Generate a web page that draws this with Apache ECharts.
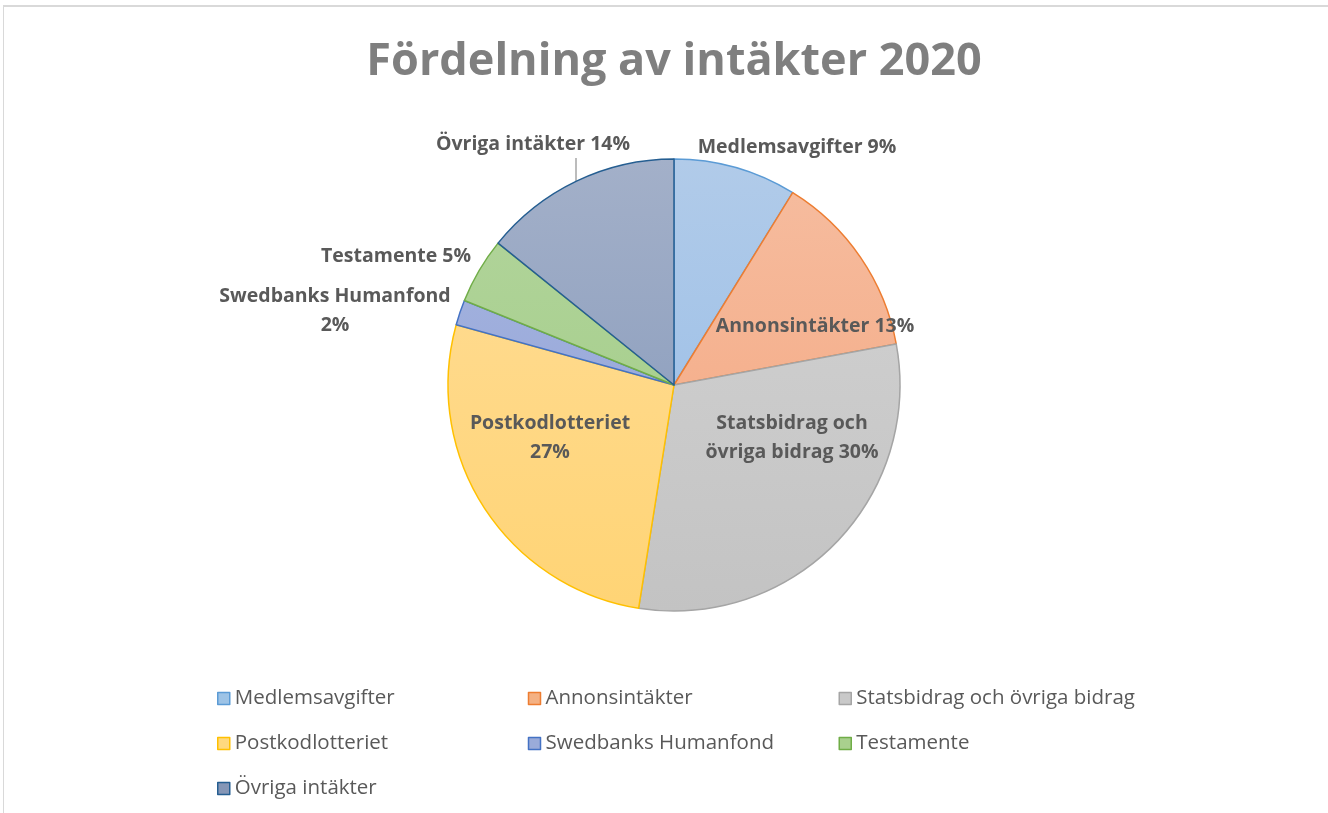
<!DOCTYPE html>
<html>
<head>
<meta charset="utf-8">
<script src="https://cdn.jsdelivr.net/npm/echarts@6/dist/echarts.min.js"></script>
<style>
html,body{margin:0;padding:0;background:#fff;overflow:hidden;}
#frame{position:absolute;left:3px;top:5px;width:1400px;height:900px;border-top:2px solid #d9d9d9;border-left:1px solid #d9d9d9;}
#chart{position:absolute;left:0;top:0;width:1328px;height:813px;}
</style>
</head>
<body>
<div id="frame"></div>
<div id="chart"></div>
<script>
const titleText = 'Fördelning av intäkter 2020';
const categories = ['Medlemsavgifter','Annonsintäkter','Statsbidrag och övriga bidrag','Postkodlotteriet','Swedbanks Humanfond','Testamente','Övriga intäkter'];
const values = [8.8, 13.3, 30.4, 26.8, 1.8, 4.7, 14.2];
const labelTexts = ['Medlemsavgifter','Annonsintäkter','Statsbidrag och\növriga bidrag','Postkodlotteriet\n','Swedbanks Humanfond\n','Testamente','Övriga intäkter'];

const fillTop = ['#b1cbe9','#f6bda0','#d4d4d4','#ffdd99','#a9b7e0','#b3d59d','#a3b0c9'];
const fillBot = ['#94bbe7','#f4a57d','#c3c3c3','#ffd475','#8d9fd6','#9fcb83','#8296b8'];
const borders = ['#5b9bd5','#ed7d31','#a5a5a5','#ffc000','#4472c4','#70ad47','#255e91'];
const legendFill = ['#9dc3e6','#f4b183','#c9c9c9','#ffd97f','#9aabd9','#a9d08e','#8596b6'];

const cx = 674, cy = 385, R = 226;
const labelPos = [[797,147],[815,326],[792,438],[550,438],[335,311],[396,256],[533,144]];

const chart = echarts.init(document.getElementById('chart'));
const data = categories.map((c,i)=>({
  name: c,
  value: values[i],
  itemStyle: {
    color: new echarts.graphic.LinearGradient(0, cy-R, 0, cy+R, [{offset:0,color:fillTop[i]},{offset:1,color:fillBot[i]}], true),
    borderColor: borders[i],
    borderWidth: 1.5
  },
  labelLine: {show: i===6, length: 10, length2: 0, lineStyle:{color:'#a6a6a6', width:1.5}}
}));

chart.setOption({
  animation: false,
  title: {
    text: titleText,
    left: cx, top: 40, textAlign: 'center', padding: 0,
    textStyle: {fontFamily: 'Open Sans', fontWeight: 'bold', fontSize: 45, color: '#7f7f7f'}
  },
  legend: {
    left: 217, top: 686, width: 960, padding: 0,
    orient: 'horizontal',
    itemWidth: 12, itemHeight: 12, itemGap: 20,
    icon: 'rect',
    data: categories.map((c,i)=>({name:c, itemStyle:{color:legendFill[i], borderColor:borders[i], borderWidth:1.5}})),
    textStyle: {fontFamily: 'Open Sans', fontSize: 20.5, color: '#595959', width: 273, lineHeight: 25, padding:[0,0,0,0]}
  },
  series: [{
    type: 'pie',
    center: [cx, cy],
    radius: [0, R],
    startAngle: 90,
    clockwise: true,
    avoidLabelOverlap: false,
    data: data,
    label: {
      show: true,
      position: 'outside',
      formatter: p => labelTexts[p.dataIndex] + (labelTexts[p.dataIndex].endsWith('\n') ? '' : ' ') + Math.round(p.percent) + '%',
      fontFamily: 'Open Sans', fontWeight: 'bold', fontSize: 19.5, color: '#595959',
      lineHeight: 29, align: 'center'
    },
    labelLine: {show: false},
    labelLayout: function (p) {
      const pos = labelPos[p.dataIndex];
      const out = {x: pos[0], y: pos[1], align: 'center', verticalAlign: 'middle'};
      if (p.dataIndex === 6) {
        out.labelLinePoints = [[576, 183], [576, 158], [576, 158]];
      }
      return out;
    },
    emphasis: {disabled: true}
  }]
});
</script>
</body>
</html>
